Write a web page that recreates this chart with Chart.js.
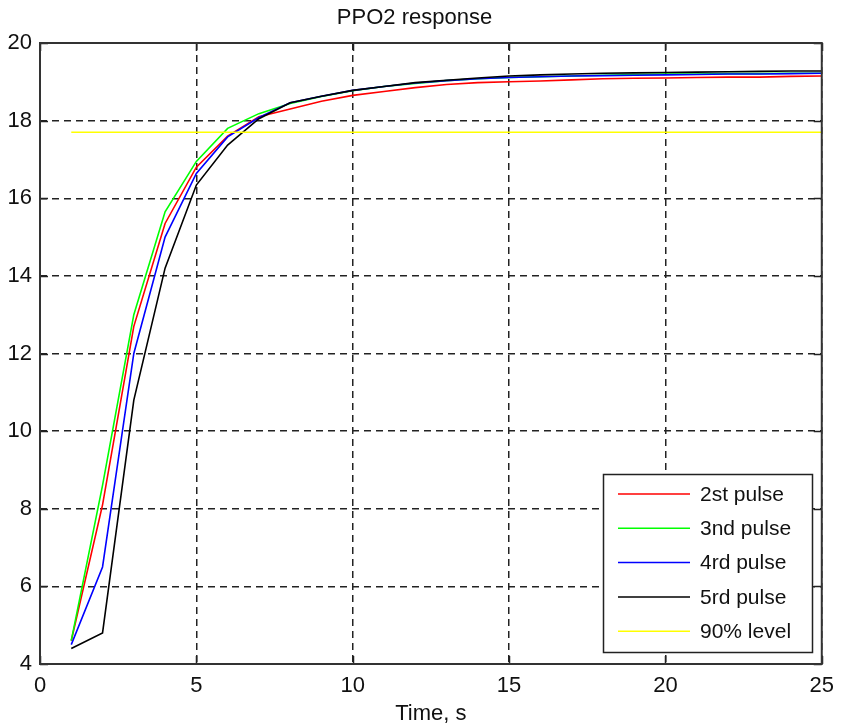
<!DOCTYPE html>
<html>
<head>
<meta charset="utf-8">
<script src="https://cdn.jsdelivr.net/npm/chart.js@4.4.1/dist/chart.umd.min.js"></script>
<style>
  html, body { margin: 0; padding: 0; background: #fff; }
  #wrap { width: 843px; height: 725px; position: relative; }
</style>
</head>
<body>
<div id="wrap"><canvas id="myChart"></canvas></div>
<script>
// time points, s
const time = [1, 2, 3, 4, 5, 6, 7, 8, 9, 10, 11, 12, 13, 14, 15, 16, 17, 18, 19, 20, 21, 22, 23, 24, 25];

const pulse2 = [4.6, 8.1, 12.7, 15.35, 16.8, 17.6, 18.1, 18.3, 18.5, 18.65, 18.75, 18.85, 18.93, 18.98, 19.0, 19.02, 19.05, 19.08, 19.09, 19.1, 19.11, 19.12, 19.12, 19.14, 19.15];
const pulse3 = [4.6, 8.6, 13.0, 15.65, 16.95, 17.8, 18.18, 18.44, 18.62, 18.77, 18.88, 18.96, 19.03, 19.08, 19.11, 19.13, 19.15, 19.17, 19.19, 19.2, 19.2, 19.21, 19.21, 19.22, 19.22];
const pulse4 = [4.5, 6.5, 12.0, 15.0, 16.64, 17.58, 18.08, 18.46, 18.63, 18.78, 18.88, 18.97, 19.03, 19.08, 19.11, 19.13, 19.15, 19.16, 19.17, 19.18, 19.19, 19.2, 19.2, 19.21, 19.22];
const pulse5 = [4.4, 4.8, 10.8, 14.2, 16.34, 17.37, 18.05, 18.46, 18.63, 18.78, 18.88, 18.98, 19.04, 19.1, 19.15, 19.18, 19.2, 19.22, 19.23, 19.24, 19.25, 19.26, 19.27, 19.28, 19.28];

const levelTime = [1, 25];
const levelValue = [17.7, 17.7];

const labels = ["2st pulse", "3nd pulse", "4rd pulse", "5rd pulse", "90% level"];
const colors = ["#ff0000", "#00ff00", "#0000ff", "#000000", "#ffff00"];

const font = "'Liberation Sans', Arial, sans-serif";

const toPoints = (xs, ys) => xs.map((x, i) => ({ x: x, y: ys[i] }));
const series = [
  toPoints(time, pulse2),
  toPoints(time, pulse3),
  toPoints(time, pulse4),
  toPoints(time, pulse5),
  toPoints(levelTime, levelValue),
];

// box around the axes plus inward tick marks like matlab
const axesBox = {
  id: "axesBox",
  afterDraw(chart) {
    const { ctx, chartArea: a, scales } = chart;
    const len = 8;
    ctx.save();
    ctx.strokeStyle = "#222";
    ctx.lineWidth = 1.5;
    ctx.beginPath();
    scales.x.ticks.forEach((t) => {
      const px = Math.round(scales.x.getPixelForValue(t.value)) + 0.5;
      ctx.moveTo(px, a.bottom); ctx.lineTo(px, a.bottom - len);
      ctx.moveTo(px, a.top); ctx.lineTo(px, a.top + len);
    });
    scales.y.ticks.forEach((t) => {
      const py = Math.round(scales.y.getPixelForValue(t.value)) + 0.5;
      ctx.moveTo(a.left, py); ctx.lineTo(a.left + len, py);
      ctx.moveTo(a.right, py); ctx.lineTo(a.right - len, py);
    });
    ctx.stroke();
    ctx.lineWidth = 2;
    ctx.strokeStyle = "#333";
    ctx.strokeRect(a.left, a.top, a.right - a.left, a.bottom - a.top);
    ctx.restore();
  },
};

// legend box in the lower right corner
const boxLegend = {
  id: "boxLegend",
  afterDraw(chart) {
    const { ctx } = chart;
    const left = 603, top = 474, w = 209, h = 178;
    ctx.save();
    ctx.fillStyle = "#fff";
    ctx.fillRect(left, top, w, h);
    ctx.strokeStyle = "#222";
    ctx.lineWidth = 1.5;
    ctx.strokeRect(left + 0.5, top + 0.5, w, h);
    ctx.font = "21px " + font;
    ctx.textBaseline = "middle";
    chart.data.datasets.forEach((ds, i) => {
      const y = top + 20 + i * 34.3;
      ctx.strokeStyle = ds.borderColor;
      ctx.lineWidth = 1.5;
      ctx.beginPath();
      ctx.moveTo(618, y);
      ctx.lineTo(690, y);
      ctx.stroke();
      ctx.fillStyle = "#111";
      ctx.fillText(ds.label, 700, y + 1);
    });
    ctx.restore();
  },
};

const datasets = series.map((pts, i) => ({
  label: labels[i],
  data: pts,
  borderColor: colors[i],
  backgroundColor: colors[i],
  borderWidth: 1.6,
  pointRadius: 0,
  tension: 0,
  fill: false,
  order: series.length - i,
}));

new Chart("myChart", {
  type: "line",
  data: { datasets },
  options: {
    responsive: true,
    maintainAspectRatio: false,
    animation: false,
    layout: { padding: { top: 0, right: 14, bottom: 0, left: 0 } },
    plugins: {
      legend: { display: false },
      tooltip: { enabled: false },
      title: {
        display: true,
        text: "PPO2 response",
        color: "#111",
        font: { family: font, size: 22, weight: "normal", lineHeight: 1.2 },
        padding: { top: 5, bottom: 11.6 },
      },
    },
    scales: {
      x: {
        type: "linear",
        min: 0,
        max: 25,
        afterFit: (scale) => { scale.height = 61; },
        border: { display: false, dash: [7, 5] },
        grid: { color: "#222", lineWidth: 1.5, drawTicks: false },
        ticks: { stepSize: 5, padding: 9, color: "#111", font: { family: font, size: 22 } },
        title: {
          display: true,
          text: "Time, s",
          color: "#111",
          font: { family: font, size: 22, lineHeight: 1 },
          padding: { top: 0, bottom: 0 },
        },
      },
      y: {
        min: 4,
        max: 20,
        afterFit: (scale) => { scale.width = 40; },
        border: { display: false, dash: [7, 5] },
        grid: { color: "#222", lineWidth: 1.5, drawTicks: false },
        ticks: { stepSize: 2, padding: 8, color: "#111", font: { family: font, size: 22 } },
      },
    },
  },
  plugins: [axesBox, boxLegend],
});
</script>
</body>
</html>
